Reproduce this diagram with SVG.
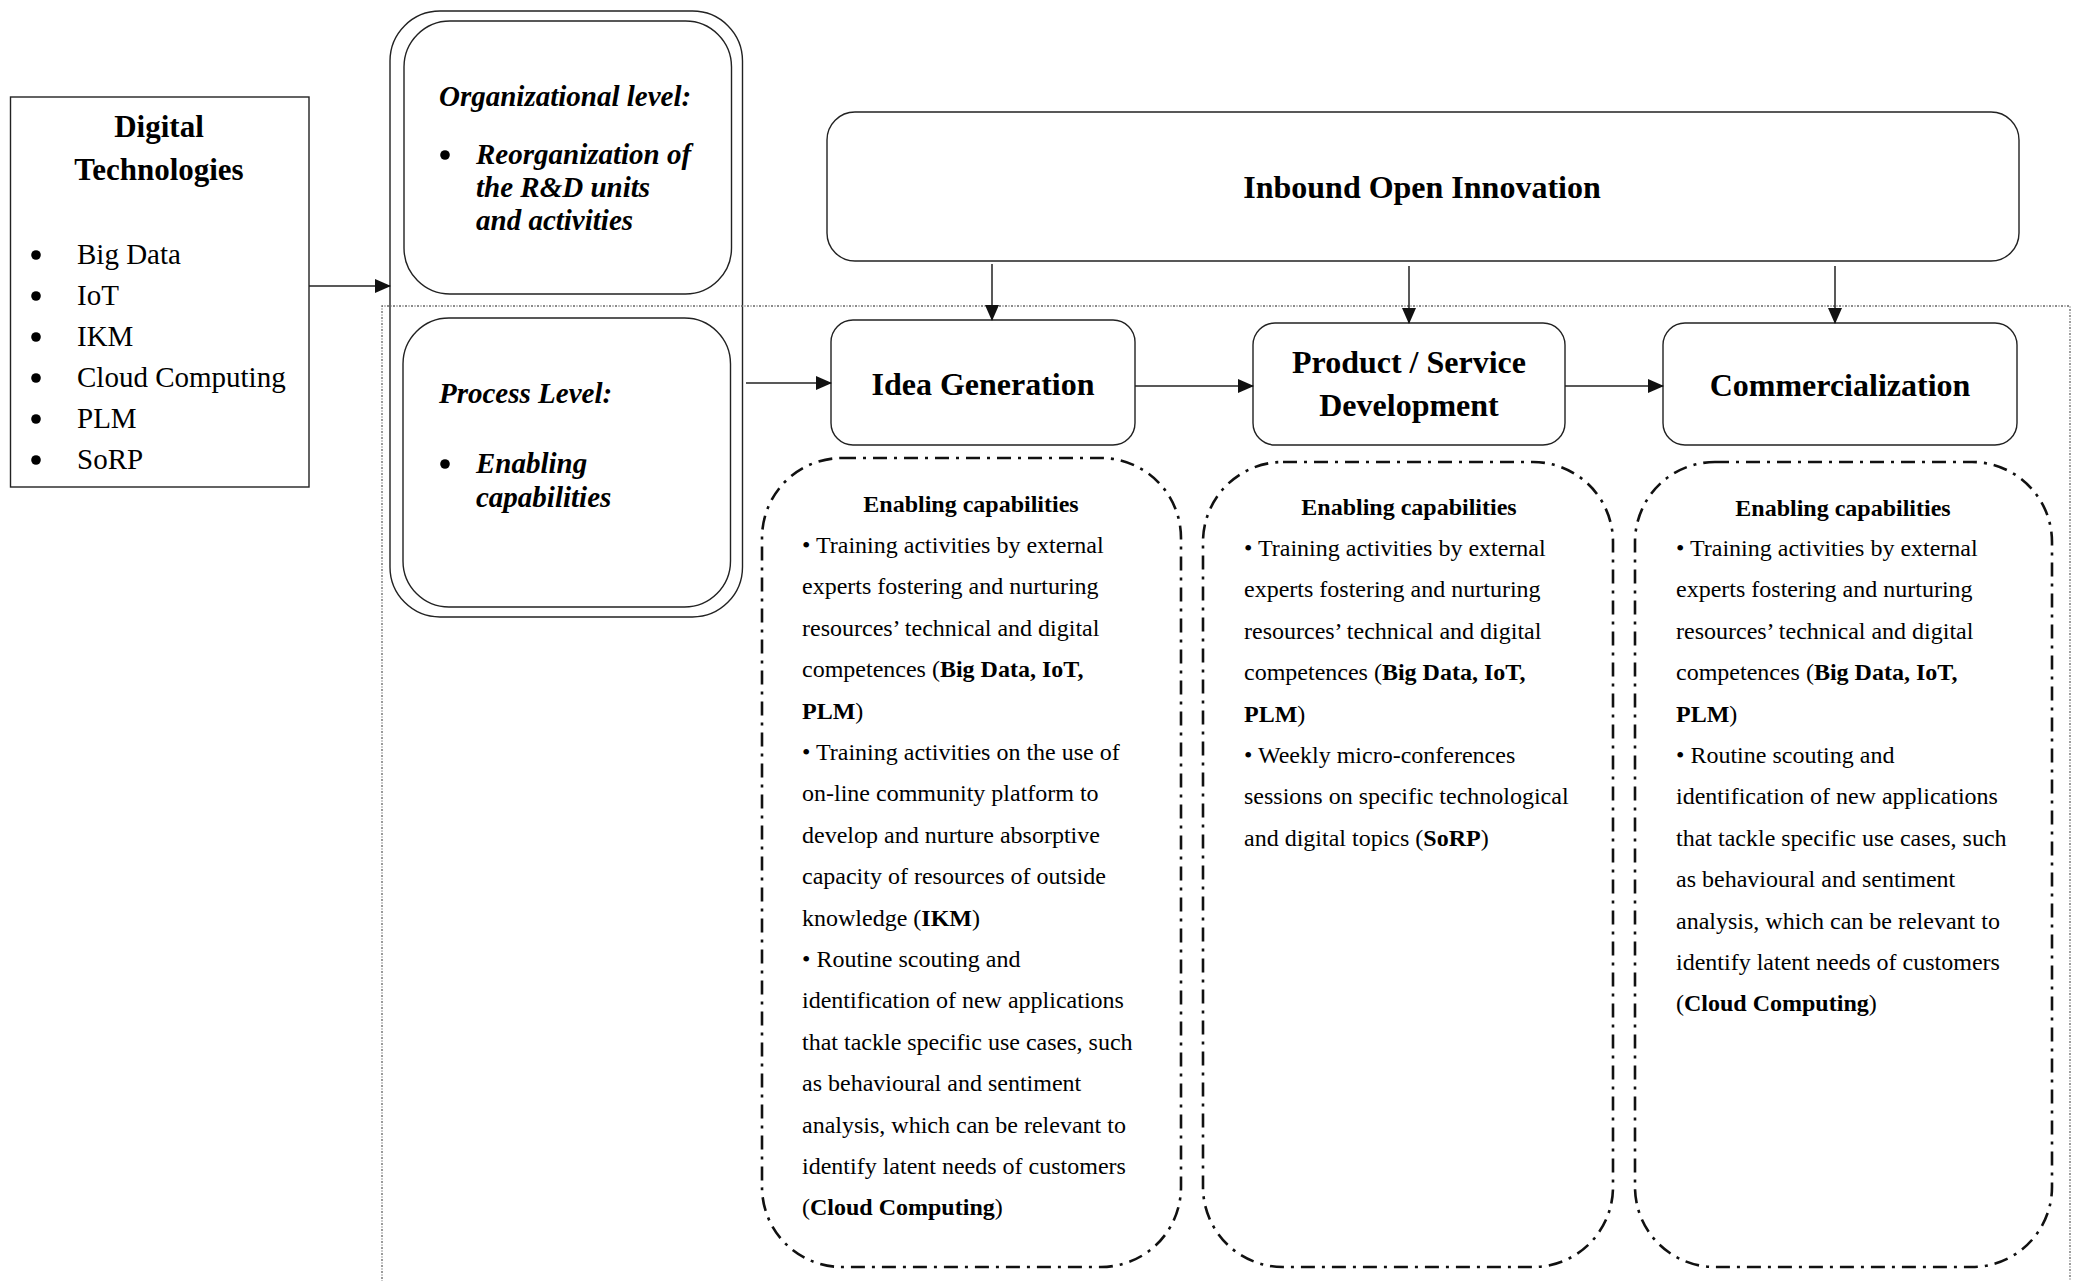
<svg xmlns="http://www.w3.org/2000/svg" width="2078" height="1281" viewBox="0 0 2078 1281">
<defs>
<marker id="arr" markerWidth="16" markerHeight="14" refX="15" refY="7" orient="auto" markerUnits="userSpaceOnUse">
<path d="M0,0 L16,7 L0,14 Z" fill="#111"/>
</marker>
<style>
.box{fill:#fff;stroke:#222;stroke-width:1.4}
.ec{fill:none;stroke:#111;stroke-width:2.6;stroke-dasharray:14 7 3 7}
.dot{fill:none;stroke:#666;stroke-width:1.3;stroke-dasharray:2 1.5 1 1.5}
.ln{fill:none;stroke:#222;stroke-width:1.5}
.bul{fill:#000}
text{font-family:"Liberation Serif","Times New Roman",serif;fill:#000}
.h{font-size:32px;font-weight:bold}
.dt{font-size:29px}
.lv{font-size:29px;font-weight:bold;font-style:italic}
.body{font-size:24px}
.b{font-weight:bold}
</style>
</defs>
<rect width="2078" height="1281" fill="#fff"/>
<g id="digital-technologies">
<rect x="10.5" y="97" width="298.5" height="390" fill="#fff" stroke="#222" stroke-width="1.4"/>
<text class="h" x="159" y="137" text-anchor="middle" style="font-size:31px">Digital</text>
<text class="h" x="159" y="180" text-anchor="middle" style="font-size:31px">Technologies</text>
<circle class="bul" cx="36" cy="255" r="4.8"/>
<circle class="bul" cx="36" cy="296" r="4.8"/>
<circle class="bul" cx="36" cy="337" r="4.8"/>
<circle class="bul" cx="36" cy="378" r="4.8"/>
<circle class="bul" cx="36" cy="419" r="4.8"/>
<circle class="bul" cx="36" cy="460" r="4.8"/>
<g class="dt">
<text x="77" y="264">Big Data</text>
<text x="77" y="305">IoT</text>
<text x="77" y="346">IKM</text>
<text x="77" y="387">Cloud Computing</text>
<text x="77" y="428">PLM</text>
<text x="77" y="469">SoRP</text>
</g>
</g>
<g id="levels">
<rect x="390" y="11" width="352.5" height="606" rx="50" class="box"/>
<g id="organizational-level">
<rect x="404" y="21" width="327.5" height="273" rx="46" class="box"/>
<text class="lv" x="439" y="106">Organizational level:</text>
<circle class="bul" cx="445" cy="155" r="4.8"/>
<text class="lv" x="476" y="164">Reorganization of</text>
<text class="lv" x="476" y="197">the R&amp;D units</text>
<text class="lv" x="476" y="230">and activities</text>
</g>
<g id="process-level">
<rect x="403" y="318" width="327.5" height="289" rx="46" class="box"/>
<text class="lv" x="439" y="403">Process Level:</text>
<circle class="bul" cx="445" cy="464" r="4.8"/>
<text class="lv" x="476" y="473">Enabling</text>
<text class="lv" x="476" y="507">capabilities</text>
</g>
</g>
<g id="region">
<path class="dot" d="M382,1285 L382,306 L2070,306 L2070,1285"/>
</g>
<g id="inbound-open-innovation">
<rect x="827" y="112" width="1192" height="149" rx="28" class="box"/>
<text class="h" x="1422" y="198" text-anchor="middle">Inbound Open Innovation</text>
</g>
<g id="idea-generation">
<rect x="831" y="320" width="304" height="125" rx="22" class="box"/>
<text class="h" x="983" y="395" text-anchor="middle">Idea Generation</text>
</g>
<g id="product-service-development">
<rect x="1253" y="323" width="312" height="122" rx="22" class="box"/>
<text class="h" x="1409" y="373" text-anchor="middle">Product / Service</text>
<text class="h" x="1409" y="416" text-anchor="middle">Development</text>
</g>
<g id="commercialization">
<rect x="1663" y="323" width="354" height="122" rx="22" class="box"/>
<text class="h" x="1840" y="396" text-anchor="middle">Commercialization</text>
</g>
<g id="connectors">
<line class="ln" x1="309" y1="286" x2="390" y2="286" marker-end="url(#arr)"/>
<line class="ln" x1="746" y1="383" x2="831" y2="383" marker-end="url(#arr)"/>
<line class="ln" x1="1135" y1="386" x2="1253" y2="386" marker-end="url(#arr)"/>
<line class="ln" x1="1565" y1="386" x2="1663" y2="386" marker-end="url(#arr)"/>
<line class="ln" x1="992" y1="264" x2="992" y2="320" marker-end="url(#arr)"/>
<line class="ln" x1="1409" y1="266" x2="1409" y2="323" marker-end="url(#arr)"/>
<line class="ln" x1="1835" y1="266" x2="1835" y2="323" marker-end="url(#arr)"/>
</g>
<g id="enabling-idea">
<rect x="762" y="458" width="419" height="809" rx="80" class="ec"/>
<text class="body b" x="971" y="512" text-anchor="middle">Enabling capabilities</text>
<text class="body" x="802" y="553">
<tspan x="802">• Training activities by external</tspan>
<tspan x="802" dy="41.4">experts fostering and nurturing</tspan>
<tspan x="802" dy="41.4">resources’ technical and digital</tspan>
<tspan x="802" dy="41.4">competences (<tspan class="b">Big Data, IoT,</tspan></tspan>
<tspan x="802" dy="41.4" class="b">PLM</tspan><tspan>)</tspan>
<tspan x="802" dy="41.4">• Training activities on the use of</tspan>
<tspan x="802" dy="41.4">on-line community platform to</tspan>
<tspan x="802" dy="41.4">develop and nurture absorptive</tspan>
<tspan x="802" dy="41.4">capacity of resources of outside</tspan>
<tspan x="802" dy="41.4">knowledge (</tspan><tspan class="b">IKM</tspan><tspan>)</tspan>
<tspan x="802" dy="41.4">• Routine scouting and</tspan>
<tspan x="802" dy="41.4">identification of new applications</tspan>
<tspan x="802" dy="41.4">that tackle specific use cases, such</tspan>
<tspan x="802" dy="41.4">as behavioural and sentiment</tspan>
<tspan x="802" dy="41.4">analysis, which can be relevant to</tspan>
<tspan x="802" dy="41.4">identify latent needs of customers</tspan>
<tspan x="802" dy="41.4">(</tspan><tspan class="b">Cloud Computing</tspan><tspan>)</tspan>
</text>
</g>
<g id="enabling-development">
<rect x="1203" y="462" width="410" height="805" rx="80" class="ec"/>
<text class="body b" x="1409" y="515" text-anchor="middle">Enabling capabilities</text>
<text class="body" x="1244" y="556">
<tspan x="1244">• Training activities by external</tspan>
<tspan x="1244" dy="41.4">experts fostering and nurturing</tspan>
<tspan x="1244" dy="41.4">resources’ technical and digital</tspan>
<tspan x="1244" dy="41.4">competences (</tspan><tspan class="b">Big Data, IoT,</tspan>
<tspan x="1244" dy="41.4" class="b">PLM</tspan><tspan>)</tspan>
<tspan x="1244" dy="41.4">• Weekly micro-conferences</tspan>
<tspan x="1244" dy="41.4">sessions on specific technological</tspan>
<tspan x="1244" dy="41.4">and digital topics (</tspan><tspan class="b">SoRP</tspan><tspan>)</tspan>
</text>
</g>
<g id="enabling-commercialization">
<rect x="1635" y="462" width="417" height="805" rx="80" class="ec"/>
<text class="body b" x="1843" y="516" text-anchor="middle">Enabling capabilities</text>
<text class="body" x="1676" y="556">
<tspan x="1676">• Training activities by external</tspan>
<tspan x="1676" dy="41.4">experts fostering and nurturing</tspan>
<tspan x="1676" dy="41.4">resources’ technical and digital</tspan>
<tspan x="1676" dy="41.4">competences (</tspan><tspan class="b">Big Data, IoT,</tspan>
<tspan x="1676" dy="41.4" class="b">PLM</tspan><tspan>)</tspan>
<tspan x="1676" dy="41.4">• Routine scouting and</tspan>
<tspan x="1676" dy="41.4">identification of new applications</tspan>
<tspan x="1676" dy="41.4">that tackle specific use cases, such</tspan>
<tspan x="1676" dy="41.4">as behavioural and sentiment</tspan>
<tspan x="1676" dy="41.4">analysis, which can be relevant to</tspan>
<tspan x="1676" dy="41.4">identify latent needs of customers</tspan>
<tspan x="1676" dy="41.4">(</tspan><tspan class="b">Cloud Computing</tspan><tspan>)</tspan>
</text>
</g>
</svg>
